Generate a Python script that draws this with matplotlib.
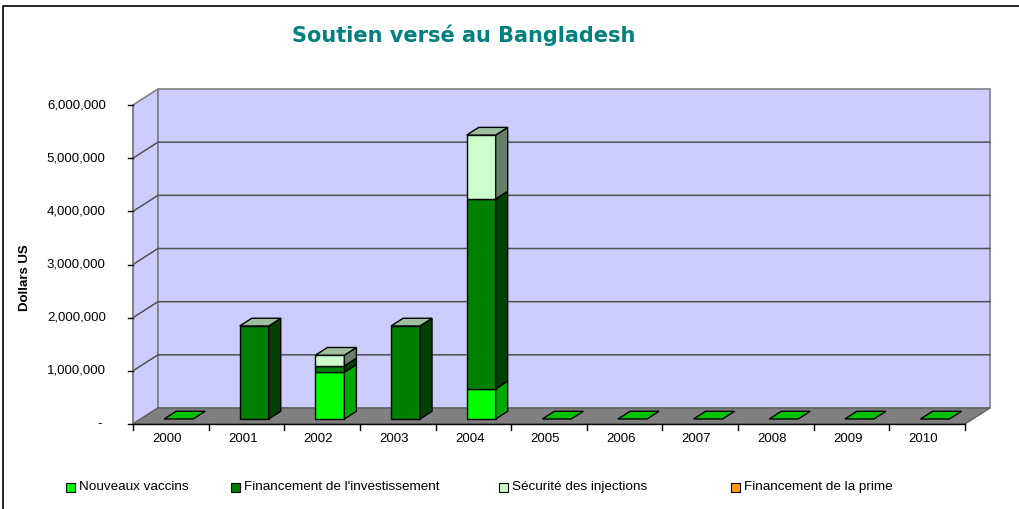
import matplotlib
matplotlib.use('Agg')
import matplotlib.pyplot as plt
from matplotlib.patches import Polygon, Rectangle
from matplotlib.lines import Line2D

years = ['2000', '2001', '2002', '2003', '2004', '2005',
         '2006', '2007', '2008', '2009', '2010']
nouveaux_vaccins = [0, 0, 880000, 0, 570000, 0, 0, 0, 0, 0, 0]
investissement = [0, 1750000, 120000, 1750000, 3570000, 0, 0, 0, 0, 0, 0]
injections = [0, 0, 200000, 0, 1200000, 0, 0, 0, 0, 0, 0]
prime = [0, 0, 0, 0, 0, 0, 0, 0, 0, 0, 0]
series_names = ['Nouveaux vaccins', "Financement de l'investissement",
                'Sécurité des injections', 'Financement de la prime']
yticks = [0, 1000000, 2000000, 3000000, 4000000, 5000000, 6000000]
ytick_labels = ['-', '1,000,000', '2,000,000', '3,000,000',
                '4,000,000', '5,000,000', '6,000,000']

series = [nouveaux_vaccins, investissement, injections, prime]
front_cols = ['#00ff00', '#008000', '#ccffcc', '#ff9900']
side_cols = ['#00a800', '#004000', '#688068', '#a86400']
top_col = '#9dbf9d'
zero_col = '#00c000'

W, H = 1019, 509
fig = plt.figure(figsize=(W / 100, H / 100), dpi=100)
ax = fig.add_axes([133 / W, 85 / H, 832 / W, 319 / H])
ax.set_xlim(0, 11)
ax.set_ylim(0, 6000000)
ax.axis('off')

# 3d offsets (data units)
wdx, wdy = 0.33, 301000          # wall depth
bdx0, bdy0 = 0.103, 94000        # bar front position in depth
bdx, bdy = 0.159, 145000         # bar depth
bw = 0.383
ymax = yticks[-1]
n = len(years)

def poly(pts, fc, ec='black', lw=1.0, z=2):
    ax.add_patch(Polygon(pts, closed=True, facecolor=fc, edgecolor=ec,
                         linewidth=lw, zorder=z, clip_on=False))

# walls and floor
poly([(0, 0), (wdx, wdy), (wdx, ymax + wdy), (0, ymax)], '#ccccff', '#808080', 1.2, 1)
poly([(wdx, wdy), (n + wdx, wdy), (n + wdx, ymax + wdy), (wdx, ymax + wdy)],
     '#ccccff', '#808080', 1.2, 1)
poly([(0, 0), (n, 0), (n + wdx, wdy), (wdx, wdy)], '#808080', '#606060', 1, 1)

for v in yticks[1:-1]:
    ax.plot([0, wdx, n + wdx], [v, v + wdy, v + wdy], color='#505050',
            lw=1.1, zorder=1.5, clip_on=False)

# axes lines and ticks
ax.plot([0, n], [0, 0], color='black', lw=1, zorder=3, clip_on=False)
ax.plot([0, 0], [0, ymax], color='#808080', lw=1.2, zorder=3, clip_on=False)
for v, lab in zip(yticks, ytick_labels):
    ax.plot([-0.06, 0], [v, v], color='black', lw=1, zorder=3, clip_on=False)
    ax.text(-0.36 if v else -0.41, v, lab, ha='right', va='center',
            fontsize=9.5, family='Liberation Sans')
for i in range(n + 1):
    ax.plot([i, i], [0, -110000], color='black', lw=1, zorder=3, clip_on=False)
for i, yr in enumerate(years):
    ax.text(i + 0.45, -290000, yr, ha='center', va='center', fontsize=9.5,
            family='Liberation Sans')

# bars
for i in range(n):
    x0 = i + 0.5 - bw / 2 + bdx0
    base = bdy0
    vals = [s[i] for s in series]
    total = sum(vals)
    if total == 0:
        poly([(x0, base), (x0 + bw, base), (x0 + bw + bdx, base + bdy),
              (x0 + bdx, base + bdy)], zero_col, z=4)
        continue
    for k, v in enumerate(vals):
        if v == 0:
            continue
        poly([(x0, base), (x0 + bw, base), (x0 + bw, base + v), (x0, base + v)],
             front_cols[k], z=4)
        poly([(x0 + bw, base), (x0 + bw + bdx, base + bdy),
              (x0 + bw + bdx, base + v + bdy), (x0 + bw, base + v)],
             side_cols[k], z=4)
        base += v
    poly([(x0, base), (x0 + bw, base), (x0 + bw + bdx, base + bdy),
          (x0 + bdx, base + bdy)], top_col, z=4)

# title and y label
fig.text(464 / W, 1 - 35 / H, 'Soutien versé au Bangladesh', ha='center',
         va='center', fontsize=15, fontweight='bold', color='#008080',
         family='DejaVu Sans')
fig.text(25 / W, 1 - 278 / H, 'Dollars US', rotation=90, ha='center',
         va='center', fontsize=9.5, fontweight='bold', family='Liberation Sans')

# legend
leg_x = [66, 231, 499, 731]
for k, name in enumerate(series_names):
    fig.patches.append(Rectangle((leg_x[k] / W, 1 - 492 / H), 9 / W, 9 / H,
                                 transform=fig.transFigure, facecolor=front_cols[k],
                                 edgecolor='black', linewidth=0.8))
    fig.text((leg_x[k] + 13) / W, 1 - 487 / H, name, ha='left', va='center',
             fontsize=9.7, family='Liberation Sans')

# outer border
fig.lines.append(Line2D([3 / W, 3 / W, 1.0], [0.0, 1 - 6 / H, 1 - 6 / H],
                        transform=fig.transFigure, color='black', lw=1.2))

fig.savefig('out.png', dpi=100, facecolor='white')
